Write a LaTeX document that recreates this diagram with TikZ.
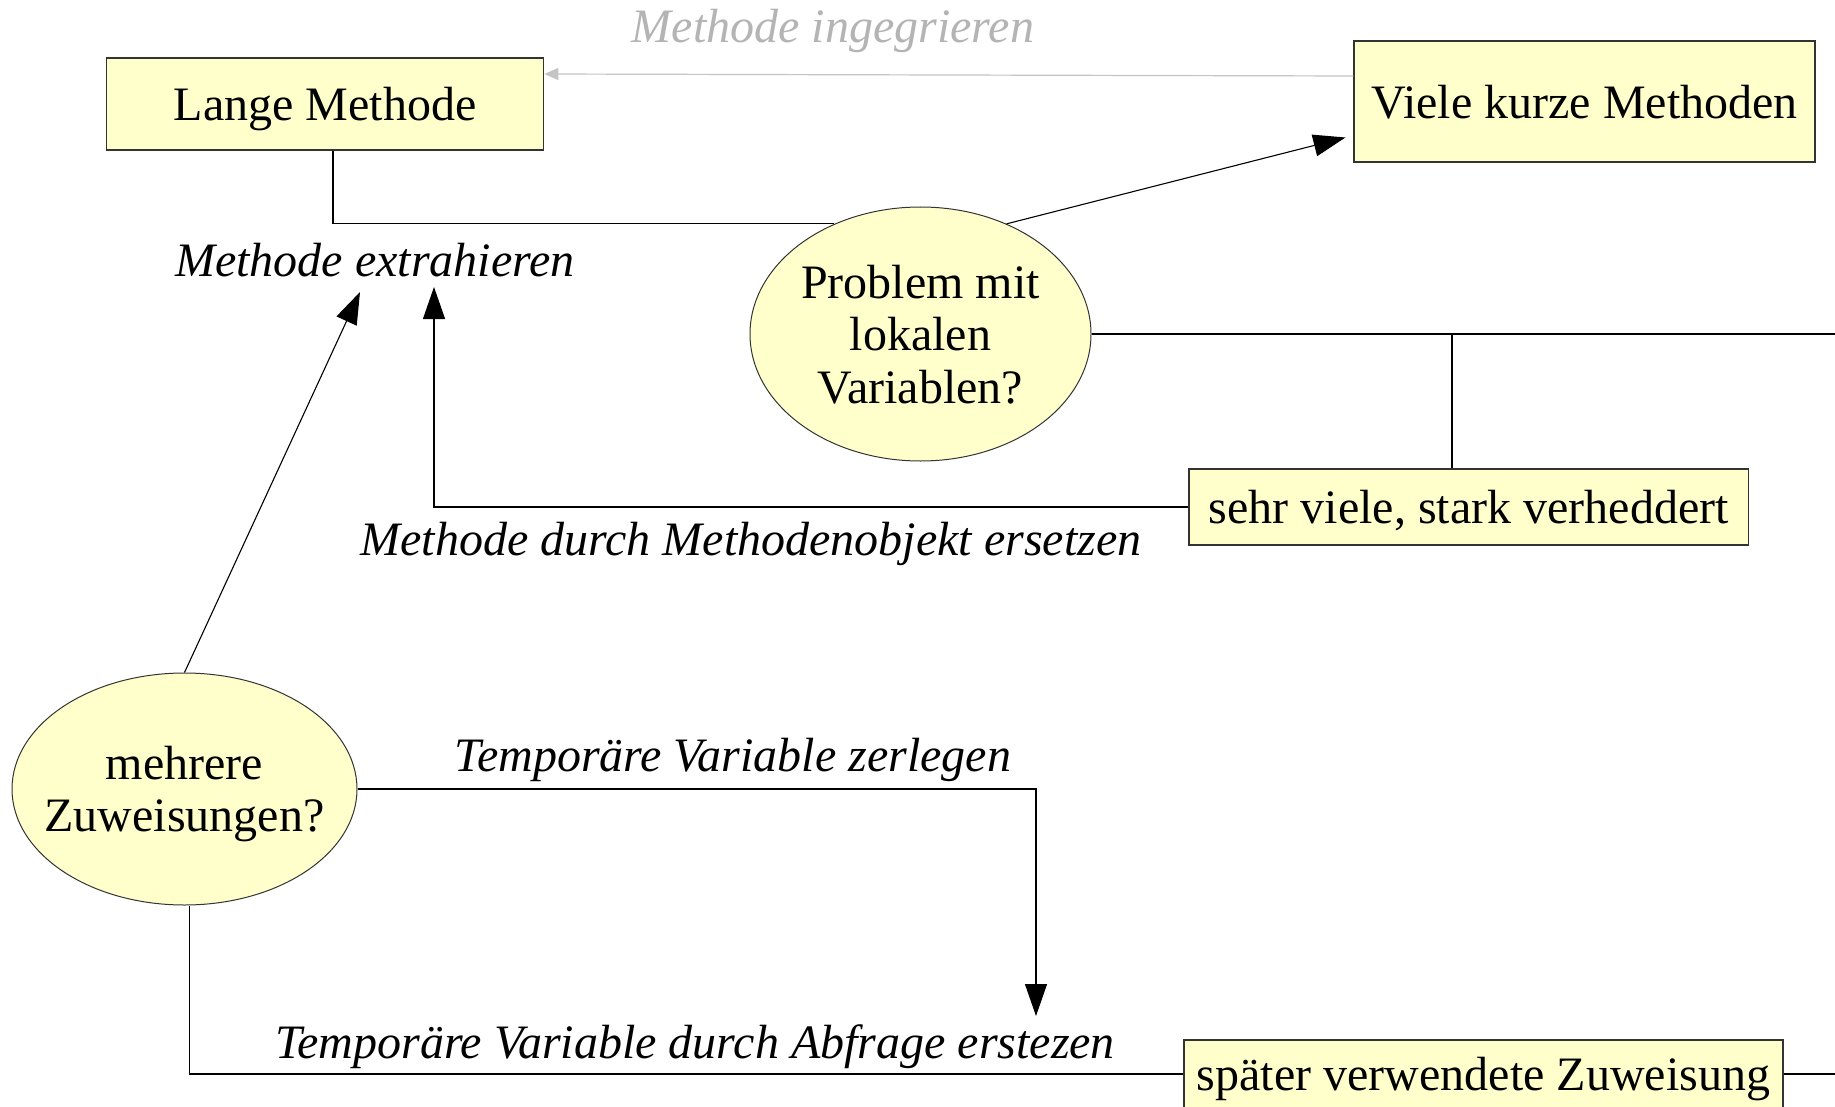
\documentclass[tikz,border=0pt]{standalone}
\usepackage{fontspec}
\setmainfont{Liberation Serif}
\usepackage{xcolor}
\usetikzlibrary{calc}
\usetikzlibrary{arrows.meta}
\usetikzlibrary{shapes.geometric}

\definecolor{boxfill}{HTML}{FFFFCC}
\definecolor{boxline}{HTML}{333333}
\definecolor{greyline}{HTML}{C4C4C4}
\definecolor{greytext}{HTML}{B4B4B4}

\tikzset{
	box/.style={draw=boxline, fill=boxfill, line width=0.6pt, inner sep=0pt, text depth=0pt},
	decision/.style={ellipse, draw=boxline, fill=boxfill, line width=0.5pt, inner sep=0pt, text depth=0pt, align=center},
	lbl/.style={font=\itshape, anchor=base, inner sep=0pt},
	con/.style={draw=black, line width=0.55pt},
	arr/.style={con, -{Triangle[length=16pt,width=11pt]}},
	greyarr/.style={draw=greyline, line width=0.6pt, -{Triangle[length=7pt,width=6pt]}}
}

\begin{document}
\fontsize{24}{26.3}\selectfont
\begin{tikzpicture}[x=0.5pt, y=-0.5pt]
		\useasboundingbox (0,0) rectangle (1835,1107);
		\fill[white] (0,0) rectangle (1835,1107);

		% boxes and decisions
		\node[box, minimum width=218.75pt, minimum height=46pt] (lange) at (325,104) {Lange Methode};
		\node[box, minimum width=230.5pt, minimum height=60.5pt] (viele) at (1584.5,101.5) {Viele kurze Methoden};
		\node[decision, minimum width=170.5pt, minimum height=127pt] (problem) at (920.5,334) {Problem mit\\lokalen\\Variablen?};
		\node[box, minimum width=279.75pt, minimum height=38pt] (sehr) at (1468.75,507) {sehr viele, stark verheddert};
		\node[decision, inner xsep=-9pt, minimum width=172.5pt, minimum height=116pt] (mehrere) at (184.5,789) {mehrere\\Zuweisungen?};
		\node[box, minimum width=299.5pt, minimum height=34pt] (spaet) at (1483.5,1074) {später verwendete Zuweisung};

		% labels
		\node[lbl, text=greytext] (integ) at (833,43) {Methode ingegrieren};
		\node[lbl] (extr) at (375,277) {Methode extrahieren};
		\node[lbl] (objekt) at (751,555) {Methode durch Methodenobjekt ersetzen};
		\node[lbl] (zerl) at (733,771) {Temporäre Variable zerlegen};
		\node[lbl] (abfr) at (695,1058) {Temporäre Variable durch Abfrage erstezen};

		% free ends
		\coordinate (tipA) at (360,292);
		\coordinate (tipB) at (434,287);
		\coordinate (tipC) at (1036,1016);
		\coordinate (jA) at (1452,334);
		\coordinate (outA) at (1835,334);
		\coordinate (outB) at (1835,1074);

		% connectors
		\draw[greyarr] ([yshift=12.75pt]viele.west) -- ([yshift=15pt]lange.east);
		\draw[con] ([xshift=4pt]lange.south) |- (problem.128);
		\draw[arr] (problem.52) -- ($(viele.west)+(-8,36)$);
		\draw[con] (problem.east) -- (outA);
		\draw[con] (jA) -- (jA |- sehr.north);
		\draw[arr] (sehr.west) -| (tipB);
		\draw[arr] (mehrere.north) -- (tipA);
		\draw[arr] (mehrere.east) -| (tipC);
		\draw[con] ([xshift=2.5pt]mehrere.south) |- (spaet.west);
		\draw[con] (spaet.east) -- (outB);
	\end{tikzpicture}
\end{document}
